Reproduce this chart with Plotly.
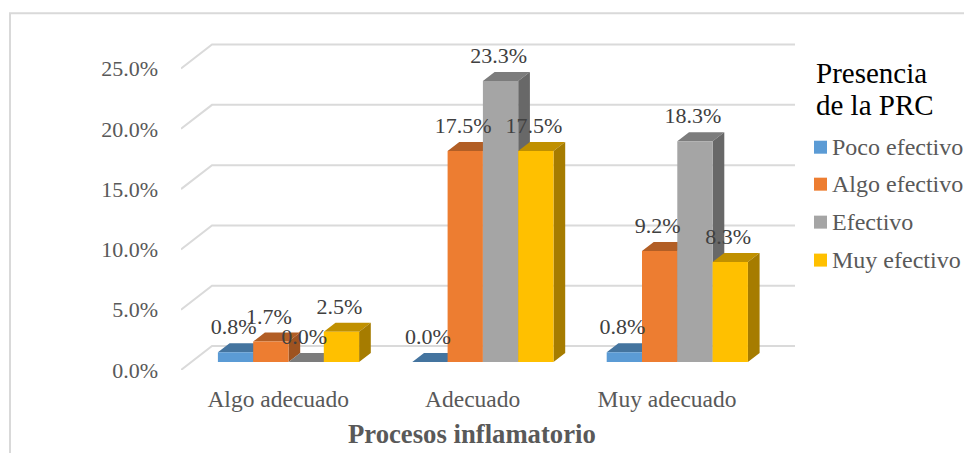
import plotly.graph_objects as go

categories = ["Algo adecuado", "Adecuado", "Muy adecuado"]
series_names = ["Poco efectivo", "Algo efectivo", "Efectivo", "Muy efectivo"]
poco = [0.8, 0.0, 0.8]
algo = [1.7, 17.5, 9.2]
efectivo = [0.0, 23.3, 18.3]
muy = [2.5, 17.5, 8.3]
series_values = [poco, algo, efectivo, muy]
y_ticks = [0, 5, 10, 15, 20, 25]
y_tick_labels = ["0.0%", "5.0%", "10.0%", "15.0%", "20.0%", "25.0%"]

front = ["#5B9BD5", "#ED7D31", "#A5A5A5", "#FFC000"]
top = ["#44749F", "#B25E25", "#7C7C7C", "#C09000"]
side = ["#3E6A93", "#9E5320", "#686868", "#A67C00"]

W, H = 964, 453
L, R, B = 181, 795, 370
PX_X, PX_Y = 194.4, 12.07      # pixels per category / per percent
YMAX = 27.2
T = B - YMAX * PX_Y
XMIN, XMAX = -0.5, -0.5 + (R - L) / PX_X

WALL_DX, WALL_DY = 31 / PX_X, 24 / PX_Y     # floor depth
BAR_X0, BAR_Y0 = 10.3 / PX_X, 8 / PX_Y      # bar plane offset inside the floor
BAR_DX, BAR_DY = 11.7 / PX_X, 9 / PX_Y      # bar depth
BAR_W = 35.3 / PX_X
LABEL_GAP = 23.5 / PX_Y
LABEL_SHIFT = -2 / PX_X


def pap_x(p):
    return (p - L) / (R - L)


def pap_y(p):
    return (B - p) / (B - T)


def faces(i, vals):
    fx, fy, tx, ty, sx, sy = [], [], [], [], [], []
    for c, v in enumerate(vals):
        x0 = c + BAR_X0 + (i - 2) * BAR_W
        x1 = x0 + BAR_W
        y0, y1 = BAR_Y0, BAR_Y0 + v
        fx += [x0, x1, x1, x0, x0, None]
        fy += [y0, y0, y1, y1, y0, None]
        tx += [x0, x1, x1 + BAR_DX, x0 + BAR_DX, x0, None]
        ty += [y1, y1, y1 + BAR_DY, y1 + BAR_DY, y1, None]
        sx += [x1, x1 + BAR_DX, x1 + BAR_DX, x1, x1, None]
        sy += [y0, y0 + BAR_DY, y1 + BAR_DY, y1, y0, None]
    return fx, fy, tx, ty, sx, sy


fig = go.Figure()

gx, gy = [], []
for t in y_ticks:
    gx += [XMIN, XMIN + WALL_DX, XMAX, None]
    gy += [t, t + WALL_DY, t + WALL_DY, None]
fig.add_trace(go.Scatter(x=gx, y=gy, mode="lines", showlegend=False, hoverinfo="skip",
                         line=dict(color="#DADADA", width=2), cliponaxis=False))

for i, (name, vals) in enumerate(zip(series_names, series_values)):
    fx, fy, tx, ty, sx, sy = faces(i, vals)
    for xs, ys, col in ((tx, ty, top[i]), (sx, sy, side[i]), (fx, fy, front[i])):
        fig.add_trace(go.Scatter(x=xs, y=ys, mode="lines", fill="toself", fillcolor=col,
                                 line=dict(width=0, color=col), name=name, showlegend=False,
                                 hoverinfo="skip", cliponaxis=False))

for i, (name, vals) in enumerate(zip(series_names, series_values)):
    fig.add_trace(go.Scatter(
        x=[c + BAR_X0 + (i - 1.5) * BAR_W + LABEL_SHIFT for c in range(len(vals))],
        y=[v + BAR_Y0 + LABEL_GAP for v in vals],
        mode="text", text=[f"{v:.1f}%" for v in vals], textposition="middle center",
        textfont=dict(family="Liberation Serif", size=22, color="#404040"),
        showlegend=False, hoverinfo="skip", cliponaxis=False))

# key beside the plot, spaced like the reference
LEG_Y = [147, 184, 222, 260]
annotations = [
    dict(text="<b>Procesos inflamatorio</b>", x=0.995, xref="x", y=pap_y(434), yref="paper",
         showarrow=False, xanchor="center", yanchor="middle",
         font=dict(family="Liberation Serif", size=26.7, color="#595959")),
    dict(text="Presencia", x=pap_x(814), xref="paper", y=pap_y(73), yref="paper",
         showarrow=False, xanchor="left", yanchor="middle",
         font=dict(family="Liberation Serif", size=29, color="#000000")),
    dict(text="de la PRC", x=pap_x(814), xref="paper", y=pap_y(105), yref="paper",
         showarrow=False, xanchor="left", yanchor="middle",
         font=dict(family="Liberation Serif", size=29, color="#000000")),
]
shapes = [dict(type="rect", xref="paper", yref="paper",
               x0=pap_x(10), x1=pap_x(W + 5), y0=pap_y(H + 5), y1=pap_y(13),
               line=dict(color="#D9D9D9", width=2), layer="below")]
for i, name in enumerate(series_names):
    annotations.append(dict(text=name, x=pap_x(830), xref="paper", y=pap_y(LEG_Y[i]), yref="paper",
                            showarrow=False, xanchor="left", yanchor="middle",
                            font=dict(family="Liberation Serif", size=24, color="#595959")))
    shapes.append(dict(type="rect", xref="paper", yref="paper",
                       x0=pap_x(814), x1=pap_x(827), y0=pap_y(LEG_Y[i] + 6.5), y1=pap_y(LEG_Y[i] - 6.5),
                       fillcolor=front[i], line=dict(width=0)))

fig.update_layout(
    width=W, height=H, autosize=False,
    margin=dict(l=L, r=W - R, t=T, b=H - B, pad=0),
    paper_bgcolor="white", plot_bgcolor="white",
    font=dict(family="Liberation Serif", color="#595959"),
    showlegend=False,
    xaxis=dict(range=[XMIN, XMAX], tickmode="array", tickvals=[0, 1, 2], ticktext=categories,
               showgrid=False, zeroline=False, showline=False, ticks="", ticklabelstandoff=12,
               tickfont=dict(family="Liberation Serif", size=23.5, color="#595959")),
    yaxis=dict(range=[0, YMAX], tickmode="array", tickvals=y_ticks, ticktext=y_tick_labels,
               showgrid=False, zeroline=False, showline=False, ticks="", ticklabelstandoff=22,
               tickfont=dict(family="Liberation Serif", size=22, color="#595959")),
    annotations=annotations,
    shapes=shapes,
)

fig.write_html("out.html", config={"displayModeBar": False},
               post_script="document.body.style.margin='0';document.documentElement.style.overflow='hidden';")
